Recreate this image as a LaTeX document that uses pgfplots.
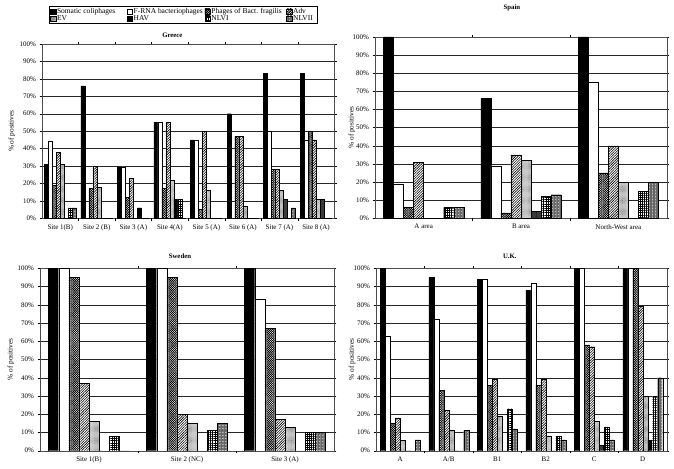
\documentclass[border=0pt]{standalone}
\usepackage{fontspec}
\setmainfont{Liberation Serif}
\usepackage{pgfplots}
\pgfplotsset{compat=1.18}
\usepackage{pgfplotstable}
\usetikzlibrary{patterns,patterns.meta}

\pgfplotstableread{
x s f b a e h n1 n2
0 31 44 19 38 31 0 6 6
1 76 0 17 30 18 0 0 0
2 29.5 29.5 12 23 0 6 0 0
3 55 55 17 55 22 11 11 0
4 45 45 5 50 16 0 0 0
5 60 0 47 47 7 0 0 0
6 83 50 28 28 16 11 0 6
7 83 45 50 45 11 11 0 0
}\greece
\pgfplotstableread{
x s f b a e h n1 n2
0 100 19 6 31 0 0 6 6
1 66 29 3 35 32 4 12 13
2 100 75 25 40 20 0 15 20
}\spain
\pgfplotstableread{
x s f b a e h n1 n2
0 100 100 95 37 16 0 8 0
1 100 100 95 20 15 0 11 15
2 100 83 67 17 13 0 10 10
}\sweden
\pgfplotstableread{
x s f b a e h n1 n2
0 100 63 15 18 6 0 0 6
1 95 72 33 22 11 0 0 11
2 94 94 36 39 19 0 23 12
3 88 92 36 39 8 0 8 6
4 100 100 58 57 16 3 13 6
5 100 100 100 79 30 6 30 40
}\uk

\tikzset{
 sSom/.style={fill=black, draw=black},
 sFRNA/.style={fill=white, draw=black},
 sBf/.style={draw=black, fill=white, postaction={pattern={Hatch[angle=45,distance=1.6pt,line width=0.5pt]}}},
 sAdv/.style={draw=black, fill=white, postaction={pattern={Lines[angle=45,distance=1.8pt,line width=0.6pt]}}},
 sEV/.style={draw=black, fill=gray!25, postaction={pattern={Dots[distance=1.1pt,radius=0.3pt]}, pattern color=gray!70!black}},
 sHAV/.style={draw=black, fill=gray!65, postaction={pattern={Lines[angle=0,distance=1pt,line width=0.35pt]}}},
 sN1/.style={draw=black, fill=white, postaction={pattern={Hatch[angle=0,distance=2.2pt,line width=0.3pt]}}},
 sN2/.style={draw=black, fill=gray!50, postaction={pattern={Hatch[angle=0,distance=1.5pt,line width=0.3pt]}, pattern color=gray!80!black}},
}

\pgfplotsset{
 panel/.style={
  scale only axis, anchor=south west,
  ymin=0, ymax=100, ytick={0,10,...,100},
  yticklabel={\pgfmathprintnumber{\tick}\%},
  /pgf/number format/assume math mode=true,
  ymajorgrids, grid style={black!85, line width=0.35pt},
  axis line style={black!70, line width=0.4pt},
  tick align=outside, major tick length=2.5pt,
  ytick style={black, line width=0.4pt},
  xtick=data, x tick style={draw=none},
  extra x tick style={x tick style={draw=black, line width=0.3pt}, major tick length=2.5pt},
  ylabel={\% of positives},
  tick label style={font=\fontsize{7}{8}\selectfont},
  label style={font=\fontsize{7.3}{8}\selectfont},
  title style={font=\bfseries\fontsize{6.8}{8}\selectfont, anchor=center},
 },
}

% #1 table, #2 bw, #3 0.5bw, #4 1.5bw, #5 2.5bw, #6 3.5bw
\newcommand\allbars[6]{%
 \addplot[ybar, bar width=#2, bar shift=-#6, sSom, legend image code/.code={\draw[fill=black,draw=black] (0bp,-2.6bp) rectangle (5.2bp,2.6bp);}] table[x=x,y=s]{#1};
 \addplot[ybar, bar width=#2, bar shift=-#5, sFRNA, legend image code/.code={\draw[sFRNA] (0bp,-2.6bp) rectangle (5.2bp,2.6bp);}] table[x=x,y=f]{#1};
 \addplot[ybar, bar width=#2, bar shift=-#4, sBf, legend image code/.code={\draw[sBf] (0bp,-2.6bp) rectangle (5.2bp,2.6bp);}] table[x=x,y=b]{#1};
 \addplot[ybar, bar width=#2, bar shift=-#3, sAdv, legend image code/.code={\draw[sAdv] (0bp,-2.6bp) rectangle (5.2bp,2.6bp);}] table[x=x,y=a]{#1};
 \addplot[ybar, bar width=#2, bar shift=#3, sEV, legend image code/.code={\draw[sEV] (0bp,-2.6bp) rectangle (5.2bp,2.6bp);}] table[x=x,y=e]{#1};
 \addplot[ybar, bar width=#2, bar shift=#4, sHAV, legend image code/.code={\draw[sHAV] (0bp,-2.6bp) rectangle (5.2bp,2.6bp);}] table[x=x,y=h]{#1};
 \addplot[ybar, bar width=#2, bar shift=#5, sN1, legend image code/.code={\draw[sN1] (0bp,-2.6bp) rectangle (5.2bp,2.6bp);}] table[x=x,y=n1]{#1};
 \addplot[ybar, bar width=#2, bar shift=#6, sN2, legend image code/.code={\draw[sN2] (0bp,-2.6bp) rectangle (5.2bp,2.6bp);}] table[x=x,y=n2]{#1};
}

\begin{document}
\begin{tikzpicture}
\useasboundingbox (0,0) rectangle (674bp,469bp);

% Greece
\begin{axis}[panel, at={(42bp,250.7bp)}, width=292.3bp, height=174.3bp,
  xmin=-0.5, xmax=7.5,
  xticklabels={Site 1(B), Site 2 (B), Site 3 (A), Site 4(A), Site 5 (A), Site 6 (A), Site 7 (A), Site 8 (A)},
  extra x ticks={0.5,1.5,...,6.5}, extra x tick labels={},
  title={Greece}, title style={at={(axis description cs:0.446,1.018)}},
  ylabel style={at={(axis description cs:-0.103,0.5)}, anchor=center},
  legend columns=4,
  legend style={at={(axis description cs:0.025,1.218)}, anchor=north west, draw=black, line width=0.5pt,
    font=\fontsize{7.5}{8}\selectfont, cells={anchor=west}, inner sep=0.8pt, row sep=-1.5pt,
    nodes={inner sep=1pt},
    /tikz/every even column/.append style={column sep=0pt}},
]
\allbars{\greece}{0.109}{0.0545}{0.1635}{0.2725}{0.3815}
\addlegendentry{\makebox[69bp][l]{Somatic coliphages}}
\addlegendentry{\makebox[70bp][l]{F-RNA bacteriophages}}
\addlegendentry{\makebox[74bp][l]{Phages of Bact. fragilis}}
\addlegendentry{\makebox[22bp][l]{Adv}}
\addlegendentry{\makebox[69bp][l]{EV}}
\addlegendentry{\makebox[70bp][l]{HAV}}
\addlegendentry{\makebox[74bp][l]{NLVI}}
\addlegendentry{\makebox[22bp][l]{NLVII}}
\end{axis}

% Spain
\begin{axis}[panel, at={(375bp,250.7bp)}, width=292bp, height=181.3bp,
  xmin=-0.5, xmax=2.5,
  xticklabels={A area, B area, North-West area},
  extra x ticks={0.5,1.5}, extra x tick labels={},
  title={Spain}, title style={at={(axis description cs:0.469,1.127)}},
  ylabel style={at={(axis description cs:-0.079,0.5)}, anchor=center},
]
\allbars{\spain}{0.103}{0.0515}{0.1545}{0.2575}{0.3605}
\end{axis}

% Sweden
\begin{axis}[panel, at={(40bp,18.3bp)}, width=294bp, height=182.4bp,
  xmin=-0.5, xmax=2.5,
  xticklabels={Site 1(B), Site 2 (NC), Site 3 (A)},
  extra x ticks={0.5,1.5}, extra x tick labels={},
  title={Sweden}, title style={at={(axis description cs:0.476,1.034)}},
  ylabel style={at={(axis description cs:-0.099,0.5)}, anchor=center},
]
\allbars{\sweden}{0.103}{0.0515}{0.1545}{0.2575}{0.3605}
\end{axis}

% UK
\begin{axis}[panel, at={(376bp,18.3bp)}, width=291bp, height=182.4bp,
  xmin=-0.5, xmax=5.5,
  xticklabels={A, A/B, B1, B2, C, D},
  extra x ticks={0.5,1.5,...,4.5}, extra x tick labels={},
  title={U.K.}, title style={at={(axis description cs:0.46,1.034)}},
  ylabel style={at={(axis description cs:-0.082,0.5)}, anchor=center},
]
\allbars{\uk}{0.103}{0.0515}{0.1545}{0.2575}{0.3605}
\end{axis}
\end{tikzpicture}
\end{document}
